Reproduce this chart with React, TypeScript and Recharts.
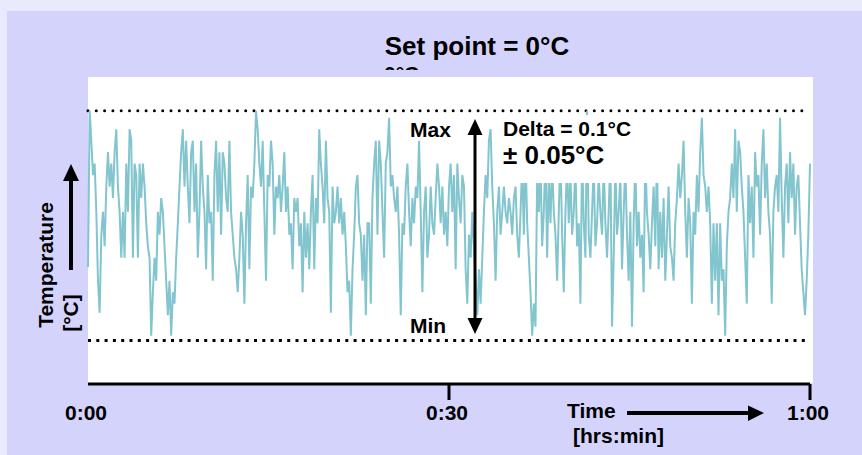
import { LineChart, Line, XAxis, YAxis, ReferenceLine } from 'recharts'

// temperature deviation from set point, in m°C in 12-minute slices
const temp00to12 = [
  -18, 50, 37, 22, 27, 6, -24, -38, -4, 6, -9, 17, 32, 17, 27, 12, 32, 42, 17, 6,
  -14, 6, -14, 27, 6, 42, 37, -14, 27, 22, -14, 27, 12, 27, 17, 1, -9, -14, -48, -29,
  -14, -24, 6, -4, 12, 6, -9, -24, -39, -24, -48, -29, -34, -14, 1, 17, 32, 42, 17, 37,
  17, 1, 32, 37, 6, 27, -14, 6, 37, 17, 6, -19, 22, 1, 6, -24, 22, 37, 6, 32, -4,
]
const temp12to24 = [
  32, 27, 12, 6, 37, 6, -4, -14, -19, -29, -14, 6, -4, -34, 1, 22, -19, 17, 12, 27,
  50, 42, 27, 17, 37, 6, -24, 22, 17, 37, 27, -4, 17, 12, 22, 6, 17, 32, 6, 17,
  -4, 1, -19, 12, 6, 12, -9, 1, -29, 6, -14, 1, -19, 6, 22, -19, 12, 1, 42, 27,
  17, 1, 37, 12, 6, -38, 17, 1, 6, 17, 1, 12, -4, 6, -9, -29, -24, -48, -19, -4,
  17, 22, 1, -4, -24, -4, -39, 1,
]
const temp24to36 = [
  1, -34, 12, 27, 37, -4, 37, 27, 6, -14, 27, 32, 47, 17, 22, 12, 6, 17, -4, -39,
  1, -4, 17, 27, 6, -9, 12, 1, 17, 12, 37, 6, -29, 6, 17, -14, -4, 17, 1, -4,
  12, 27, 17, 1, 17, -4, 6, -9, 17, 27, 6, 22, -19, 27, 12, 1, 22, 17, -19, -34,
  -4, -14, 6, -9, -24, -39, -19, -34, -14, 6, 22, 12, 37, 42, 17, 1, -24, 6, 17, -4,
  6, 17, 6, 1, 12, 6, -4, 12, 17,
]
const temp36to48 = [
  -4, -14, 6, 27, -4, 32, 1, -14, -29, -48, -34, -44, 22, 6, 27, -9, 6, 32, -14, 22,
  1, 27, 6, -4, -24, 6, 32, -4, -29, 6, 27, 1, 22, -4, 6, 27, -9, 1, -34, 32,
  1, -14, 50, -4, -14, 6, 27, -9, 1, 22, 6, -4, 27, 1, -14, 6, 32, -44, -14, 27,
  -4, 6, 22, -19, 6, 27, -4, -24, 6, -44, 1, 27, -9, 6, -14, -4, -29, 32, 6, -4,
  -19, 1, 17, -9, 31, -19, 6, -14,
]
const temp48to60 = [
  12, -24, -4, 17, -9, -14, -24, 1, 12, 27, 12, 22, 37, 6, -14, 12, 1, -34, 6, -4,
  22, 6, 32, 47, 22, 17, 6, 17, 1, -34, 1, -24, 1, -39, 1, -24, -19, -48, -9, 6,
  12, 27, 12, 42, 6, 37, 32, 17, 6, -14, -34, 22, 1, 17, -14, 32, 17, 22, -4, 27,
  42, 12, 27, 6, -4, -34, 6, 17, 22, 6, 47, 12, -14, 17, 27, 1, 32, 12, 27, -4,
  17, 22, 1, -19, -29, -39, -24, -4, 27,
]

const timeTicks = [0, 30, 60]
const timeTickLabels = ['0:00', '0:30', '1:00']
const limitMax = 50
const limitMin = -50

const trace = [temp00to12, temp12to24, temp24to36, temp36to48, temp48to60].flat()
const data = trace.map((t, i) => ({ minute: (i * 60) / (trace.length - 1), temp: t }))

const FONT = '"Liberation Sans", Arial, sans-serif'

function TimeTick(props: any) {
  const { x, y, payload } = props
  const label = timeTickLabels[timeTicks.indexOf(payload.value)]
  return (
    <g>
      {payload.value !== 0 && (
        <line x1={x} x2={x} y1={y - 14} y2={y + 2} stroke="#000" strokeWidth={3} />
      )}
      <text x={x - 2} y={y + 22} textAnchor="middle" fontFamily={FONT} fontWeight="bold" fontSize={21} fill="#000">
        {label}
      </text>
    </g>
  )
}

// drawn over the chart so the white box hides the trace behind the delta text
function Annotations() {
  const txt = { fontFamily: FONT, fontWeight: 'bold' as const, fill: '#000' }
  return (
    <svg width={862} height={455} style={{ position: 'absolute', left: 0, top: 0, pointerEvents: 'none' }}>
      <text x={477} y={55} textAnchor="middle" fontSize={26} {...txt}>Set point = 0°C</text>

      <text transform="translate(53,265) rotate(-90)" textAnchor="middle" fontSize={21} {...txt}>Temperature</text>
      <text transform="translate(78,313) rotate(-90)" textAnchor="middle" fontSize={21} {...txt}>[°C]</text>
      <line x1={71} x2={71} y1={178} y2={270} stroke="#000" strokeWidth={4} />
      <polygon points="63,181 79,181 71,164" fill="#000" />

      <rect x={502} y={115} width={158} height={68} fill="#fff" />

      <text x={410} y={137} fontSize={21} {...txt}>Max</text>
      <text x={410} y={333} fontSize={21} {...txt}>Min</text>
      <line x1={475} x2={475} y1={132} y2={320} stroke="#000" strokeWidth={3} />
      <polygon points="467.5,135 482.5,135 475,119" fill="#000" />
      <polygon points="467.5,318 482.5,318 475,334" fill="#000" />
      <text x={503} y={136} fontSize={21} {...txt}>Delta = 0.1°C</text>
      <text x={503} y={164} fontSize={26} {...txt}>± 0.05°C</text>

      <text x={567} y={418} fontSize={21} {...txt}>Time</text>
      <line x1={627} x2={750} y1={413} y2={413} stroke="#000" strokeWidth={4} />
      <polygon points="748,405.5 748,421 764,413" fill="#000" />
      <text x={573} y={443} fontSize={21} {...txt}>[hrs:min]</text>
    </svg>
  )
}

export default function App() {
  return (
    <div style={{ position: 'absolute', left: 0, top: 0, width: 862, height: 455, overflow: 'hidden' }}>
      <svg width={862} height={455} style={{ position: 'absolute', left: 0, top: 0 }}>
        <defs>
          <clipPath id="cutLine">
            <rect x={0} y={0} width={862} height={70} />
          </clipPath>
        </defs>
        <rect x={0} y={0} width={862} height={455} fill="#eaeafd" />
        <rect x={7} y={11} width={855} height={444} fill="#d3d3fc" />
        <text x={384} y={81} fontSize={21} fontFamily={FONT} fontWeight="bold" clipPath="url(#cutLine)">0°C</text>
        <rect x={88} y={77} width={725} height={306} fill="#fff" />
      </svg>
      <LineChart
        width={862}
        height={455}
        data={data}
        margin={{ top: 81, right: 52, bottom: 0, left: 88 }}
        style={{ position: 'absolute', left: 0, top: 0 }}
      >
        <XAxis
          dataKey="minute"
          type="number"
          domain={[0, 60]}
          ticks={timeTicks}
          interval={0}
          height={71}
          axisLine={{ stroke: '#000', strokeWidth: 3 }}
          tickLine={false}
          tickSize={14}
          tickMargin={0}
          tick={TimeTick}
        />
        <YAxis
          type="number"
          domain={[-69, 63]}
          allowDataOverflow
          width={0}
          tick={false}
          tickLine={false}
          axisLine={{ stroke: '#000', strokeWidth: 3 }}
        />
        <ReferenceLine y={limitMax} stroke="#000" strokeWidth={3} strokeDasharray="0 8.3" strokeLinecap="round" />
        <ReferenceLine y={limitMin} stroke="#000" strokeWidth={3} strokeDasharray="3 5.3" />
        <Line
          type="linear"
          dataKey="temp"
          stroke="#82c5ce"
          strokeWidth={2}
          dot={false}
          isAnimationActive={false}
        />
      </LineChart>
      <Annotations />
    </div>
  )
}
